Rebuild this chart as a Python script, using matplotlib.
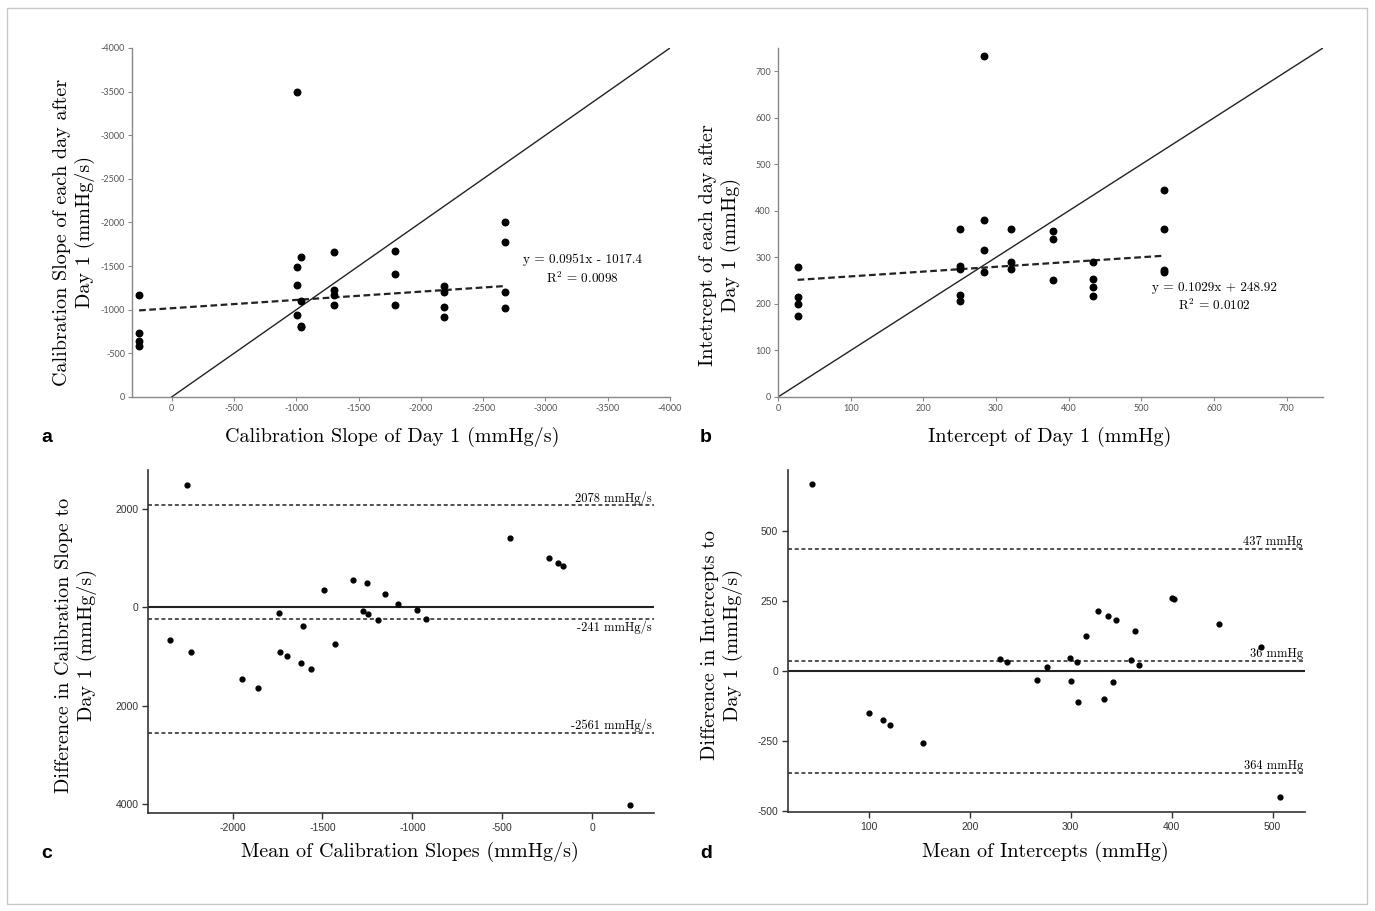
import matplotlib
matplotlib.use("Agg")
import matplotlib.pyplot as plt
from matplotlib.patches import Rectangle

plt.rcParams['axes.unicode_minus'] = False
plt.rcParams['mathtext.fontset'] = 'cm'

# a: calibration slope, day 1 vs later days
a_day1 = [261, 261, 261, 261, -1004, -1004, -1004, -1004, -1040, -1040, -1040, -1040,
          -1307, -1307, -1307, -1307, -1796, -1796, -1796, -2189, -2189, -2189, -2189,
          -2675, -2675, -2675, -2675]
a_after = [-1167, -739, -643, -586, -3495, -1493, -1286, -938, -1608, -1102, -815, -800,
           -1665, -1229, -1171, -1053, -1677, -1412, -1053, -1271, -1198, -1037, -922,
           -2006, -1772, -1206, -1022]
a_fit = (0.0951, -1017.4)

# b: intercept, day 1 vs later days
b_day1 = [27, 27, 27, 27, 251, 251, 251, 251, 251, 283, 283, 283, 283, 321, 321, 321,
          379, 379, 379, 434, 434, 434, 434, 531, 531, 531, 531]
b_after = [279, 215, 199, 173, 360, 281, 276, 220, 206, 732, 381, 316, 268, 360, 291, 274,
           357, 339, 251, 291, 253, 237, 218, 444, 360, 273, 268]
b_fit = (0.1029, 248.92)

# c: Bland-Altman, slopes
c_mean = [-2255, -2350, -2229, -1946, -1857, -1741, -1737, -1697, -1620, -1610, -1564,
          -1493, -1433, -1333, -1274, -1254, -1246, -1190, -1152, -1081, -977, -925,
          -458, -239, -191, -163, 209]
c_diff = [2495, -662, -899, -1463, -1645, -111, -913, -997, -1143, -383, -1261,
          348, -739, 564, -70, 488, -132, -251, 279, 63, -49, -230,
          1422, 997, 899, 836, -4035]
c_lines = [2078, -241, -2561]
c_line_labels = ["2078 mmHg/s", "-241 mmHg/s", "-2561 mmHg/s"]

# d: Bland-Altman, intercepts
d_mean = [44, 100.7, 113.8, 121.5, 153.8, 230.2, 237, 267, 276.7, 299, 300.4, 306.5,
          307.3, 315, 327, 332.7, 337, 341.8, 344.4, 359.6, 364, 368, 400.4, 402.5,
          446.5, 488.4, 507.6]
d_diff = [670, -150, -175, -192, -257, 44, 31, -31, 15, 48, -35, 31, -111, 126, 215,
          -100, 198, -40, 182, 38, 143, 20, 261, 257, 170, 87, -451]
d_lines = [437, 36, -364]
d_line_labels = ["437 mmHg", "36 mmHg", "364 mmHg"]

W, H = 1375, 911
fig = plt.figure(figsize=(W / 100, H / 100), dpi=100)
fig.patches.append(Rectangle((7 / W, 7 / H), 1360 / W, 896 / H, transform=fig.transFigure,
                             fill=False, edgecolor='#c8c8c8', lw=1))

serif = 'cmr10'


def px_axes(l, t, r, b):
    return fig.add_axes([l / W, 1 - b / H, (r - l) / W, (b - t) / H])


def style_ab(ax):
    for s in ['top', 'right']:
        ax.spines[s].set_visible(False)
    for s in ['left', 'bottom']:
        ax.spines[s].set_color('#888888')
        ax.spines[s].set_linewidth(1)
    ax.tick_params(length=3, width=0.8, color='#888888', labelsize=6.5,
                   labelcolor='#555555', pad=2)
    for lab in ax.get_xticklabels() + ax.get_yticklabels():
        lab.set_family('Lato')


def style_cd(ax):
    for s in ['top', 'right']:
        ax.spines[s].set_visible(False)
    for s in ['left', 'bottom']:
        ax.spines[s].set_color('#333333')
        ax.spines[s].set_linewidth(1.2)
    ax.tick_params(length=4, width=1, color='#333333', labelsize=7.5,
                   labelcolor='#333333', pad=3)
    for lab in ax.get_xticklabels() + ax.get_yticklabels():
        lab.set_family('Liberation Sans')


# ---- panel a
ax = px_axes(132, 48, 670, 397)
ax.set_xlim(318, -4000)
ax.set_ylim(0, -4000)
ax.plot([0, -4000], [0, -4000], color='#222222', lw=1)
xs = [max(a_day1), min(a_day1)]
ax.plot(xs, [a_fit[0] * x + a_fit[1] for x in xs], color='#222222', lw=1.6,
        dashes=(3, 1.6))
ax.scatter(a_day1, a_after, s=22, color='black', zorder=3)
ax.set_xticks(range(0, -4001, -500))
ax.set_yticks(range(0, -4001, -500))
ax.set_xticklabels([str(v) for v in range(0, -4001, -500)])
ax.set_yticklabels([str(v) for v in range(0, -4001, -500)])
style_ab(ax)
ax.text(-3300, -1575, "y = 0.0951x - 1017.4", family=serif, fontsize=9.5,
        ha='center', va='center')
ax.text(-3300, -1360, "R$^2$ = 0.0098", family=serif, fontsize=9.5,
        ha='center', va='center')

# ---- panel b
ax = px_axes(778, 48, 1323, 397)
ax.set_xlim(0, 750)
ax.set_ylim(0, 750)
ax.plot([0, 750], [0, 750], color='#222222', lw=1)
xs = [min(b_day1), max(b_day1)]
ax.plot(xs, [b_fit[0] * x + b_fit[1] for x in xs], color='#222222', lw=1.6,
        dashes=(3, 1.6))
ax.scatter(b_day1, b_after, s=22, color='black', zorder=3)
ax.set_xticks(range(0, 701, 100))
ax.set_yticks(range(0, 701, 100))
style_ab(ax)
ax.text(601, 235, "y = 0.1029x + 248.92", family=serif, fontsize=9.5,
        ha='center', va='center')
ax.text(601, 197, "R$^2$ = 0.0102", family=serif, fontsize=9.5,
        ha='center', va='center')

# ---- panel c
ax = px_axes(148, 470, 654, 813)
ax.set_xlim(-2470, 343)
ax.set_ylim(-4190, 2800)
ax.axhline(0, color='#222222', lw=1.5)
for v, lab in zip(c_lines, c_line_labels):
    ax.axhline(v, color='#222222', lw=1.1, dashes=(2.6, 1.8))
    off = -160 if v == -241 else 150
    ax.text(330, v + off, lab, family=serif, fontsize=9, ha='right', va='center')
ax.scatter(c_mean, c_diff, s=12, color='black', zorder=3)
ax.set_xticks(range(-2000, 1, 500))
ax.set_xticklabels([str(v) for v in range(-2000, 1, 500)])
ax.set_yticks([2000, 0, -2000, -4000])
ax.set_yticklabels(["2000", "0", "2000", "4000"])
style_cd(ax)

# ---- panel d
ax = px_axes(788, 470, 1305, 812)
ax.set_xlim(20, 532)
ax.set_ylim(-505, 720)
ax.axhline(0, color='#222222', lw=1.5)
for v, lab in zip(d_lines, d_line_labels):
    ax.axhline(v, color='#222222', lw=1.1, dashes=(2.6, 1.8))
    ax.text(530, v + 24, lab, family=serif, fontsize=9, ha='right', va='center')
ax.scatter(d_mean, d_diff, s=12, color='black', zorder=3)
ax.set_xticks(range(100, 501, 100))
ax.set_yticks([500, 250, 0, -250, -500])
style_cd(ax)

# ---- axis labels
lab_kw = dict(family=serif, fontsize=14.5, ha='center', va='center')
fig.text(392 / W, 1 - 437 / H, "Calibration Slope of Day 1 (mmHg/s)", **lab_kw)
fig.text(1050 / W, 1 - 437 / H, "Intercept of Day 1 (mmHg)", **lab_kw)
fig.text(410 / W, 1 - 852 / H, "Mean of Calibration Slopes (mmHg/s)", **lab_kw)
fig.text(1045 / W, 1 - 852 / H, "Mean of Intercepts (mmHg)", **lab_kw)
fig.text(74 / W, 1 - 232 / H, "Calibration Slope of each day after\nDay 1 (mmHg/s)",
         rotation=90, multialignment='center', **lab_kw)
fig.text(720 / W, 1 - 245 / H, "Intetrcept of each day after\nDay 1 (mmHg)",
         rotation=90, multialignment='center', **lab_kw)
fig.text(76 / W, 1 - 645 / H, "Difference in Calibration Slope to\nDay 1 (mmHg/s)",
         rotation=90, multialignment='center', **lab_kw)
fig.text(722 / W, 1 - 645 / H, "Difference in Intercepts to\nDay 1 (mmHg/s)",
         rotation=90, multialignment='center', **lab_kw)

# ---- panel letters
for x, y, s in [(47, 437, 'a'), (706, 437, 'b'), (47, 853, 'c'), (706, 853, 'd')]:
    fig.text(x / W, 1 - y / H, s, family='Liberation Sans', fontweight='bold',
             fontsize=14, ha='center', va='center')

fig.savefig("out.png", dpi=100)
